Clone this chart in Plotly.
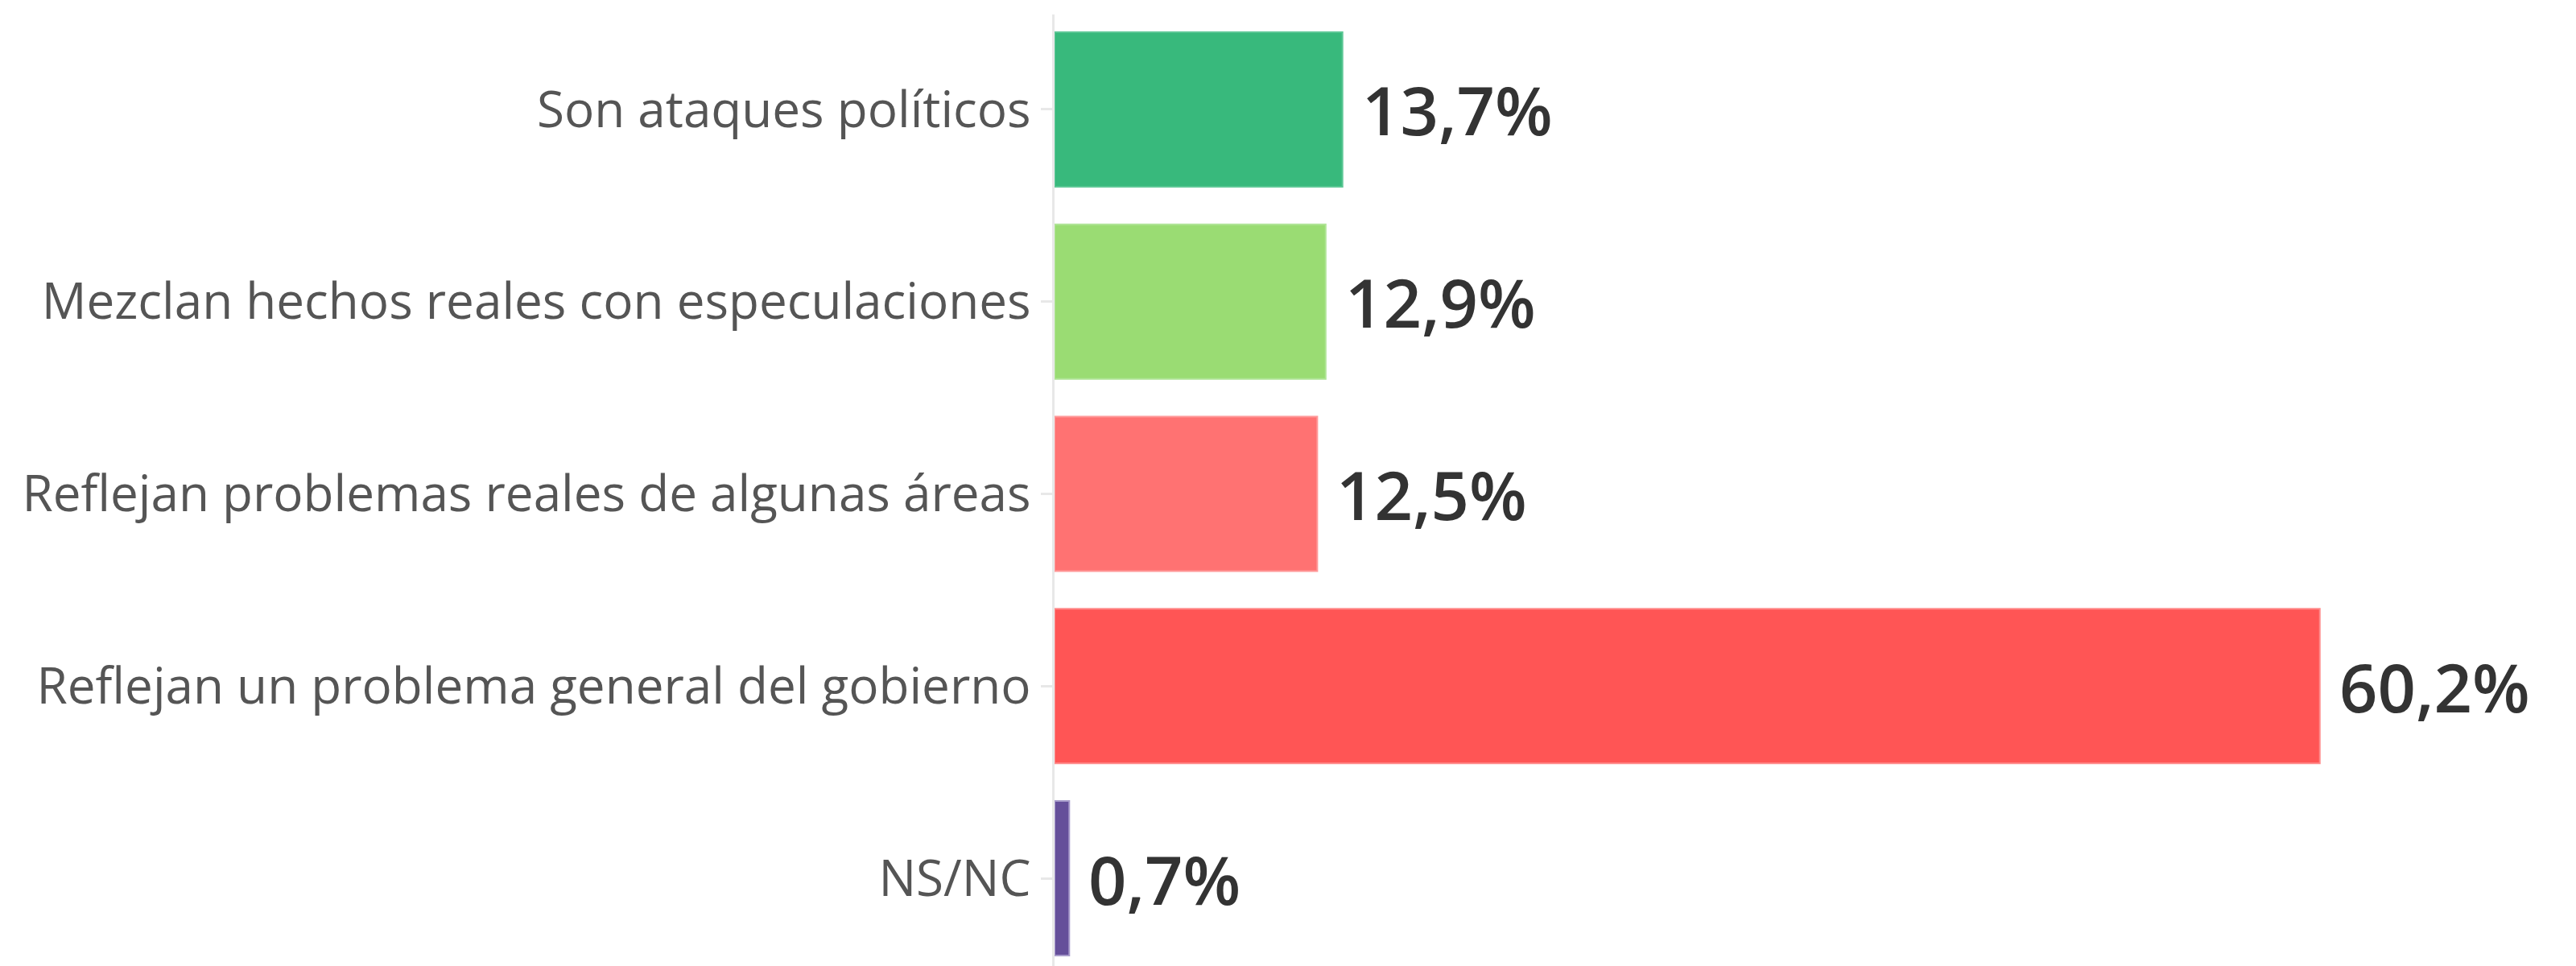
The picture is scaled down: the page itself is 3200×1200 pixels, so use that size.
import plotly.graph_objects as go

categories = [
    "Son ataques políticos",
    "Mezclan hechos reales con especulaciones",
    "Reflejan problemas reales de algunas áreas",
    "Reflejan un problema general del gobierno",
    "NS/NC",
]
values = [13.7, 12.9, 12.5, 60.2, 0.7]
colors = ["#38B97C", "#9ADC73", "#FF7272", "#FF5555", "#654F9A"]
edge_colors = ["#5CC795", "#B0E496", "#FF9A9A", "#FF8A8A", "#A79BCB"]
value_labels = [f"{v:.1f}".replace(".", ",") + "%" for v in values]

fig = go.Figure()
fig.add_trace(go.Bar(
    x=values,
    y=categories,
    orientation="h",
    marker=dict(color=colors, line=dict(color=edge_colors, width=2)),
    hoverinfo="skip",
))

for cat, v, lab in zip(categories, values, value_labels):
    fig.add_annotation(
        x=v, y=cat, xref="x", yref="y",
        text=lab, showarrow=False,
        xanchor="left", yanchor="middle",
        xshift=22,
        font=dict(family="Open Sans", size=83, color="#333333", weight=600),
    )

fig.update_layout(
    width=3200, height=1200,
    margin=dict(l=1302, r=20, t=10, b=0),
    paper_bgcolor="white",
    plot_bgcolor="white",
    bargap=0.196,
    showlegend=False,
    font=dict(family="Open Sans"),
)
fig.update_xaxes(
    range=[0, 71.93], automargin=False,
    showgrid=False, zeroline=False, showticklabels=False, showline=False,
)
fig.update_yaxes(
    type="category", automargin=False,
    range=[4.49, -0.494],
    showgrid=False, zeroline=False,
    showline=True, linecolor="#E8E8E8", linewidth=3,
    ticks="outside", ticklen=14, tickcolor="#E8E8E8", tickwidth=3,
    tickfont=dict(family="Open Sans", size=62, color="#555555"),
)

fig.write_html("out.html")
